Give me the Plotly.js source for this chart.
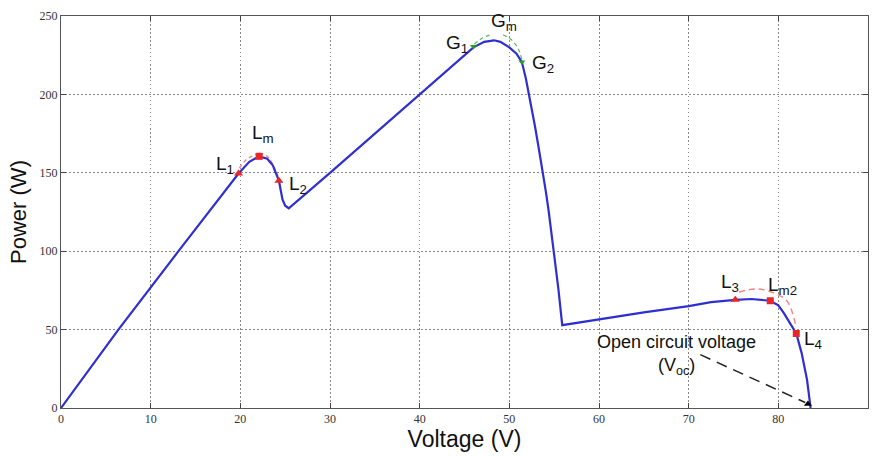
<!DOCTYPE html>
<html>
<head>
<meta charset="utf-8">
<script src="https://cdn.plot.ly/plotly-3.0.1.min.js"></script>
<style>html,body{margin:0;padding:0;background:#fff}#chart{width:872px;height:456px}</style>
</head>
<body>
<div id="chart"></div>
<script>
// P-V curve
const voltage = [0, 6.4, 13.1, 19.8, 21.0, 22.1, 23.0, 23.6, 24.3, 24.7, 25.0, 25.4, 30, 35, 40, 44, 46, 47.2, 48.3, 49.0, 50.0, 50.8, 51.4, 51.85, 52.35, 52.85, 53.3, 53.75, 54.1, 54.4, 54.7, 54.98, 55.47, 55.9, 60, 65, 70, 72.5, 75.2, 77.0, 79.1, 80.0, 80.6, 81.3, 82.0, 82.6, 83.2, 83.6];
const power   = [0, 50, 100, 149.5, 157, 160.5, 159, 155, 145, 133, 129, 127.4, 150, 175, 200, 220, 230, 233.5, 234.5, 233.5, 230, 226, 220.6, 210, 196, 180, 165, 150, 137, 125, 112, 100, 76, 52.8, 56.5, 61, 65, 67.5, 69, 69.5, 68.4, 65.5, 60.7, 54.3, 47.5, 35, 18, 0];

// marked points
const triLabelsX = [19.8, 24.3, 75.2];
const triLabelsY = [149.5, 145, 69];
const sqX = [22.1, 79.1, 82.0];
const sqY = [160.5, 68.4, 47.5];
const gX = [46.0, 51.4];
const gY = [230.6, 220.6];
const vocX = [83.3];
const vocY = [2.5];

// search arcs (dashed)
const arcL1X = [19.9, 20.6, 21.4, 22.1];
const arcL1Y = [153, 158, 161, 162.5];
const arcL2X = [22.1, 23.0, 23.6, 24.2];
const arcL2Y = [162.5, 160.5, 155.5, 148];
const arcL3X = [75.6, 77.6, 79.5, 81.0, 82.0];
const arcL3Y = [74, 75.9, 73.4, 68, 51];
const arcG1X = [46.1, 47.0, 47.9];
const arcG1Y = [232, 236, 238];
const arcG2X = [49.3, 50.2, 51.0, 51.4];
const arcG2Y = [238, 235, 229, 222];
const vocLineX = [71.3, 83.0];
const vocLineY = [34, 3.5];

// labels
const labTxt = ['L<sub>1</sub>', 'L<sub>m</sub>', 'L<sub>2</sub>', 'G<sub>1</sub>', 'G<sub>m</sub>', 'G<sub>2</sub>', 'L<sub>3</sub>', 'L<sub>m2</sub>', 'L<sub>4</sub>'];
const labX = [18.3, 22.5, 26.4, 44.2, 49.4, 53.8, 74.6, 80.5, 83.9];
const labY = [155, 175, 142.5, 232, 246, 219.5, 80, 77.5, 43.5];
const xTicks = [0, 10, 20, 30, 40, 50, 60, 70, 80, 90];
const yTicks = [0, 50, 100, 150, 200, 250];

const red = '#e8262a', redArc = '#f08a8a', green = '#2a9a2a', greenArc = '#5cb85c';
const traces = [
  {x: arcL1X, y: arcL1Y, mode: 'lines', line: {color: redArc, width: 1.5, dash: '4px,3px', shape: 'spline'}},
  {x: arcL2X, y: arcL2Y, mode: 'lines', line: {color: redArc, width: 1.5, dash: '4px,3px', shape: 'spline'}},
  {x: arcL3X, y: arcL3Y, mode: 'lines', line: {color: redArc, width: 1.5, dash: '6px,4px', shape: 'spline'}},
  {x: arcG1X, y: arcG1Y, mode: 'lines', line: {color: greenArc, width: 1.2, dash: '4px,3px', shape: 'spline'}},
  {x: arcG2X, y: arcG2Y, mode: 'lines', line: {color: greenArc, width: 1.2, dash: '4px,3px', shape: 'spline'}},
  {x: vocLineX, y: vocLineY, mode: 'lines', line: {color: '#222', width: 1.5, dash: '11px,7px'}},
  {x: voltage, y: power, mode: 'lines', line: {color: '#2f2fd0', width: 2.2}},
  {x: triLabelsX, y: triLabelsY, mode: 'markers', marker: {symbol: 'triangle-up', size: 8, color: red}},
  {x: sqX, y: sqY, mode: 'markers', marker: {symbol: 'square', size: 7, color: red}},
  {x: gX, y: gY, mode: 'markers', marker: {symbol: 'triangle-down', size: 6, color: green}},
  {x: vocX, y: vocY, mode: 'markers', marker: {symbol: 'triangle-up', size: 7, color: '#000'}}
];

const annotations = labTxt.map((t, i) => ({
  x: labX[i], y: labY[i], xref: 'x', yref: 'y', text: t, showarrow: false,
  font: {family: 'Liberation Sans, Arial, sans-serif', size: 19, color: '#111'}
}));
annotations.push({x: 68.6, y: 42, xref: 'x', yref: 'y', text: 'Open circuit voltage', showarrow: false,
  font: {family: 'Liberation Sans, Arial, sans-serif', size: 18, color: '#111'}});
annotations.push({x: 68.6, y: 26.5, xref: 'x', yref: 'y', text: '(V<sub>oc</sub>)', showarrow: false,
  font: {family: 'Liberation Sans, Arial, sans-serif', size: 18, color: '#111'}});

const axisCommon = {
  showline: true, linecolor: '#555', linewidth: 1, mirror: 'ticks',
  ticks: 'inside', ticklen: 5, tickcolor: '#444',
  showgrid: true, gridcolor: '#888', griddash: '1.5px,2.5px', gridwidth: 1,
  zeroline: false,
  tickfont: {family: 'Liberation Serif, Times New Roman, serif', size: 12, color: '#333'}
};

const layout = {
  width: 872, height: 456,
  margin: {l: 61, r: 4, t: 16, b: 48},
  paper_bgcolor: '#fff', plot_bgcolor: '#fff',
  showlegend: false,
  xaxis: Object.assign({}, axisCommon, {
    range: [0, 90], tickvals: xTicks, ticktext: xTicks.map(String),
    title: {text: 'Voltage (V)', font: {family: 'Liberation Sans, Arial, sans-serif', size: 23, color: '#111'}, standoff: 3}
  }),
  yaxis: Object.assign({}, axisCommon, {
    range: [0, 250], tickvals: yTicks, ticktext: yTicks.map(String),
    title: {text: 'Power (W)', font: {family: 'Liberation Sans, Arial, sans-serif', size: 22, color: '#111'}, standoff: 6}
  }),
  annotations: annotations
};

Plotly.newPlot('chart', traces, layout, {displayModeBar: false, staticPlot: true});
</script>
</body>
</html>
